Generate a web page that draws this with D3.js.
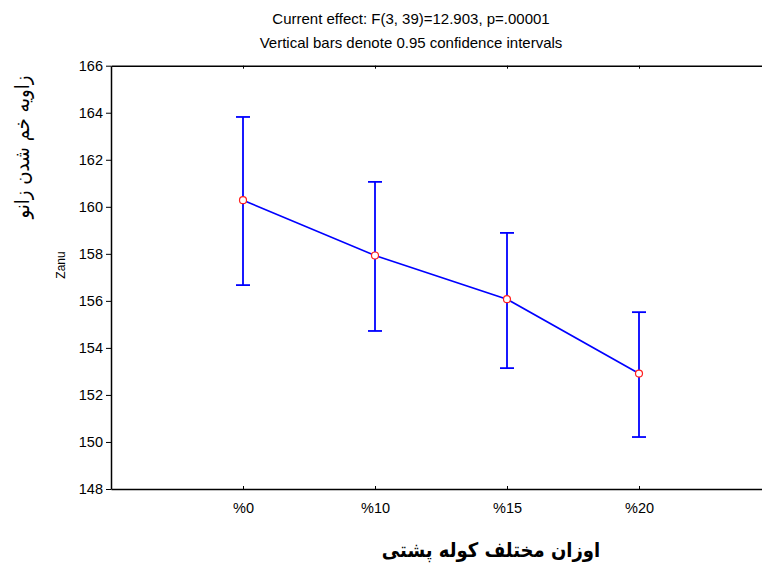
<!DOCTYPE html>
<html><head><meta charset="utf-8">
<script src="https://cdn.jsdelivr.net/npm/d3@7"></script>
<style>body{margin:0;background:#fff}svg{display:block}</style>
</head><body>
<script>
const categories = ["%0", "%10", "%15", "%20"];
const means = [160.28, 157.93, 156.07, 152.91];
const upperCI = [163.82, 161.06, 158.89, 155.52];
const lowerCI = [156.67, 154.72, 153.14, 150.21];
const yTicks = [148, 150, 152, 154, 156, 158, 160, 162, 164, 166];
const titleLines = ["Current effect: F(3, 39)=12.903, p=.00001", "Vertical bars denote 0.95 confidence intervals"];
const yLabel = "زاویه خم شدن زانو";
const yVarLabel = "Zanu";
const xLabel = "اوزان مختلف کوله پشتی";

const W = 762, H = 568;
const svg = d3.select("body").append("svg").attr("width", W).attr("height", H);
const font = "Arial, 'Liberation Sans', 'DejaVu Sans', sans-serif";
const afont = "'DejaVu Sans Condensed', 'DejaVu Sans', sans-serif";

const x = d3.scaleLinear().domain([0, categories.length + 1]).range([111, 771]);
const y = d3.scaleLinear().domain([148, 166]).range([489, 65.7]);

// title
svg.selectAll("text.title").data(titleLines).enter().append("text")
  .attr("x", 411).attr("y", (d, i) => 24 + i * 24)
  .attr("text-anchor", "middle").attr("font-family", font).attr("font-size", 15)
  .attr("fill", "#000").text(d => d);

// left axis
const yAxis = d3.axisLeft(y).tickValues(yTicks).tickSize(5).tickPadding(3).tickSizeOuter(0);
const gy = svg.append("g").attr("transform", "translate(111,0)").call(yAxis);
gy.select(".domain").attr("stroke", "#000").attr("stroke-width", 1.5);
gy.selectAll(".tick line").attr("stroke", "#000");
gy.selectAll(".tick text").attr("font-family", font).attr("font-size", 14.5).attr("fill", "#000");

// bottom axis (ticks point inward)
const xAxis = d3.axisBottom(x).tickValues(d3.range(1, categories.length + 1))
  .tickFormat(i => categories[i - 1]).tickSizeInner(-3).tickSizeOuter(0).tickPadding(14);
const gx = svg.append("g").attr("transform", "translate(0,489)").call(xAxis);
gx.select(".domain").attr("stroke", "#000").attr("stroke-width", 1.5);
gx.selectAll(".tick line").attr("stroke", "#000");
gx.selectAll(".tick text").attr("font-family", font).attr("font-size", 14.5).attr("fill", "#000");

// top axis line (ticks point inward)
const xTop = d3.axisTop(x).tickValues(d3.range(1, categories.length + 1))
  .tickFormat("").tickSizeInner(-3).tickSizeOuter(0);
const gt = svg.append("g").attr("transform", "translate(0,65.7)").call(xTop);
gt.select(".domain").attr("stroke", "#000").attr("stroke-width", 1.5);
gt.selectAll(".tick line").attr("stroke", "#000");

const data = categories.map((c, i) => ({i: i + 1, m: means[i], lo: lowerCI[i], hi: upperCI[i]}));
const blue = "#0000ff";

// error bars
const eb = svg.append("g");
eb.selectAll("line.v").data(data).enter().append("line")
  .attr("x1", d => x(d.i)).attr("x2", d => x(d.i))
  .attr("y1", d => y(d.lo)).attr("y2", d => y(d.hi))
  .attr("stroke", blue).attr("stroke-width", 1.8);
eb.selectAll("line.top").data(data).enter().append("line")
  .attr("x1", d => x(d.i) - 7).attr("x2", d => x(d.i) + 7)
  .attr("y1", d => y(d.hi)).attr("y2", d => y(d.hi))
  .attr("stroke", blue).attr("stroke-width", 1.8);
eb.selectAll("line.bot").data(data).enter().append("line")
  .attr("x1", d => x(d.i) - 7).attr("x2", d => x(d.i) + 7)
  .attr("y1", d => y(d.lo)).attr("y2", d => y(d.lo))
  .attr("stroke", blue).attr("stroke-width", 1.8);

// mean line
svg.append("path").datum(data)
  .attr("d", d3.line().x(d => x(d.i)).y(d => y(d.m)))
  .attr("fill", "none").attr("stroke", blue).attr("stroke-width", 1.6);

// markers
svg.selectAll("circle.pt").data(data).enter().append("circle")
  .attr("cx", d => x(d.i)).attr("cy", d => y(d.m)).attr("r", 3.5)
  .attr("fill", "#fff").attr("stroke", "#ff2020").attr("stroke-width", 1.2);

// y labels
svg.append("text").attr("transform", "translate(29,147) rotate(-90)")
  .attr("text-anchor", "middle").attr("font-family", afont).attr("font-size", 20)
  .attr("fill", "#000").attr("direction", "rtl").text(yLabel);
svg.append("text").attr("transform", "translate(65,265) rotate(-90)")
  .attr("text-anchor", "middle").attr("font-family", font).attr("font-size", 12)
  .attr("fill", "#000").text(yVarLabel);

// x label
svg.append("text").attr("x", 491).attr("y", 557)
  .attr("text-anchor", "middle").attr("font-family", afont).attr("font-size", 20)
  .attr("font-weight", "bold").attr("fill", "#000").attr("direction", "rtl").text(xLabel);
</script>
</body></html>
